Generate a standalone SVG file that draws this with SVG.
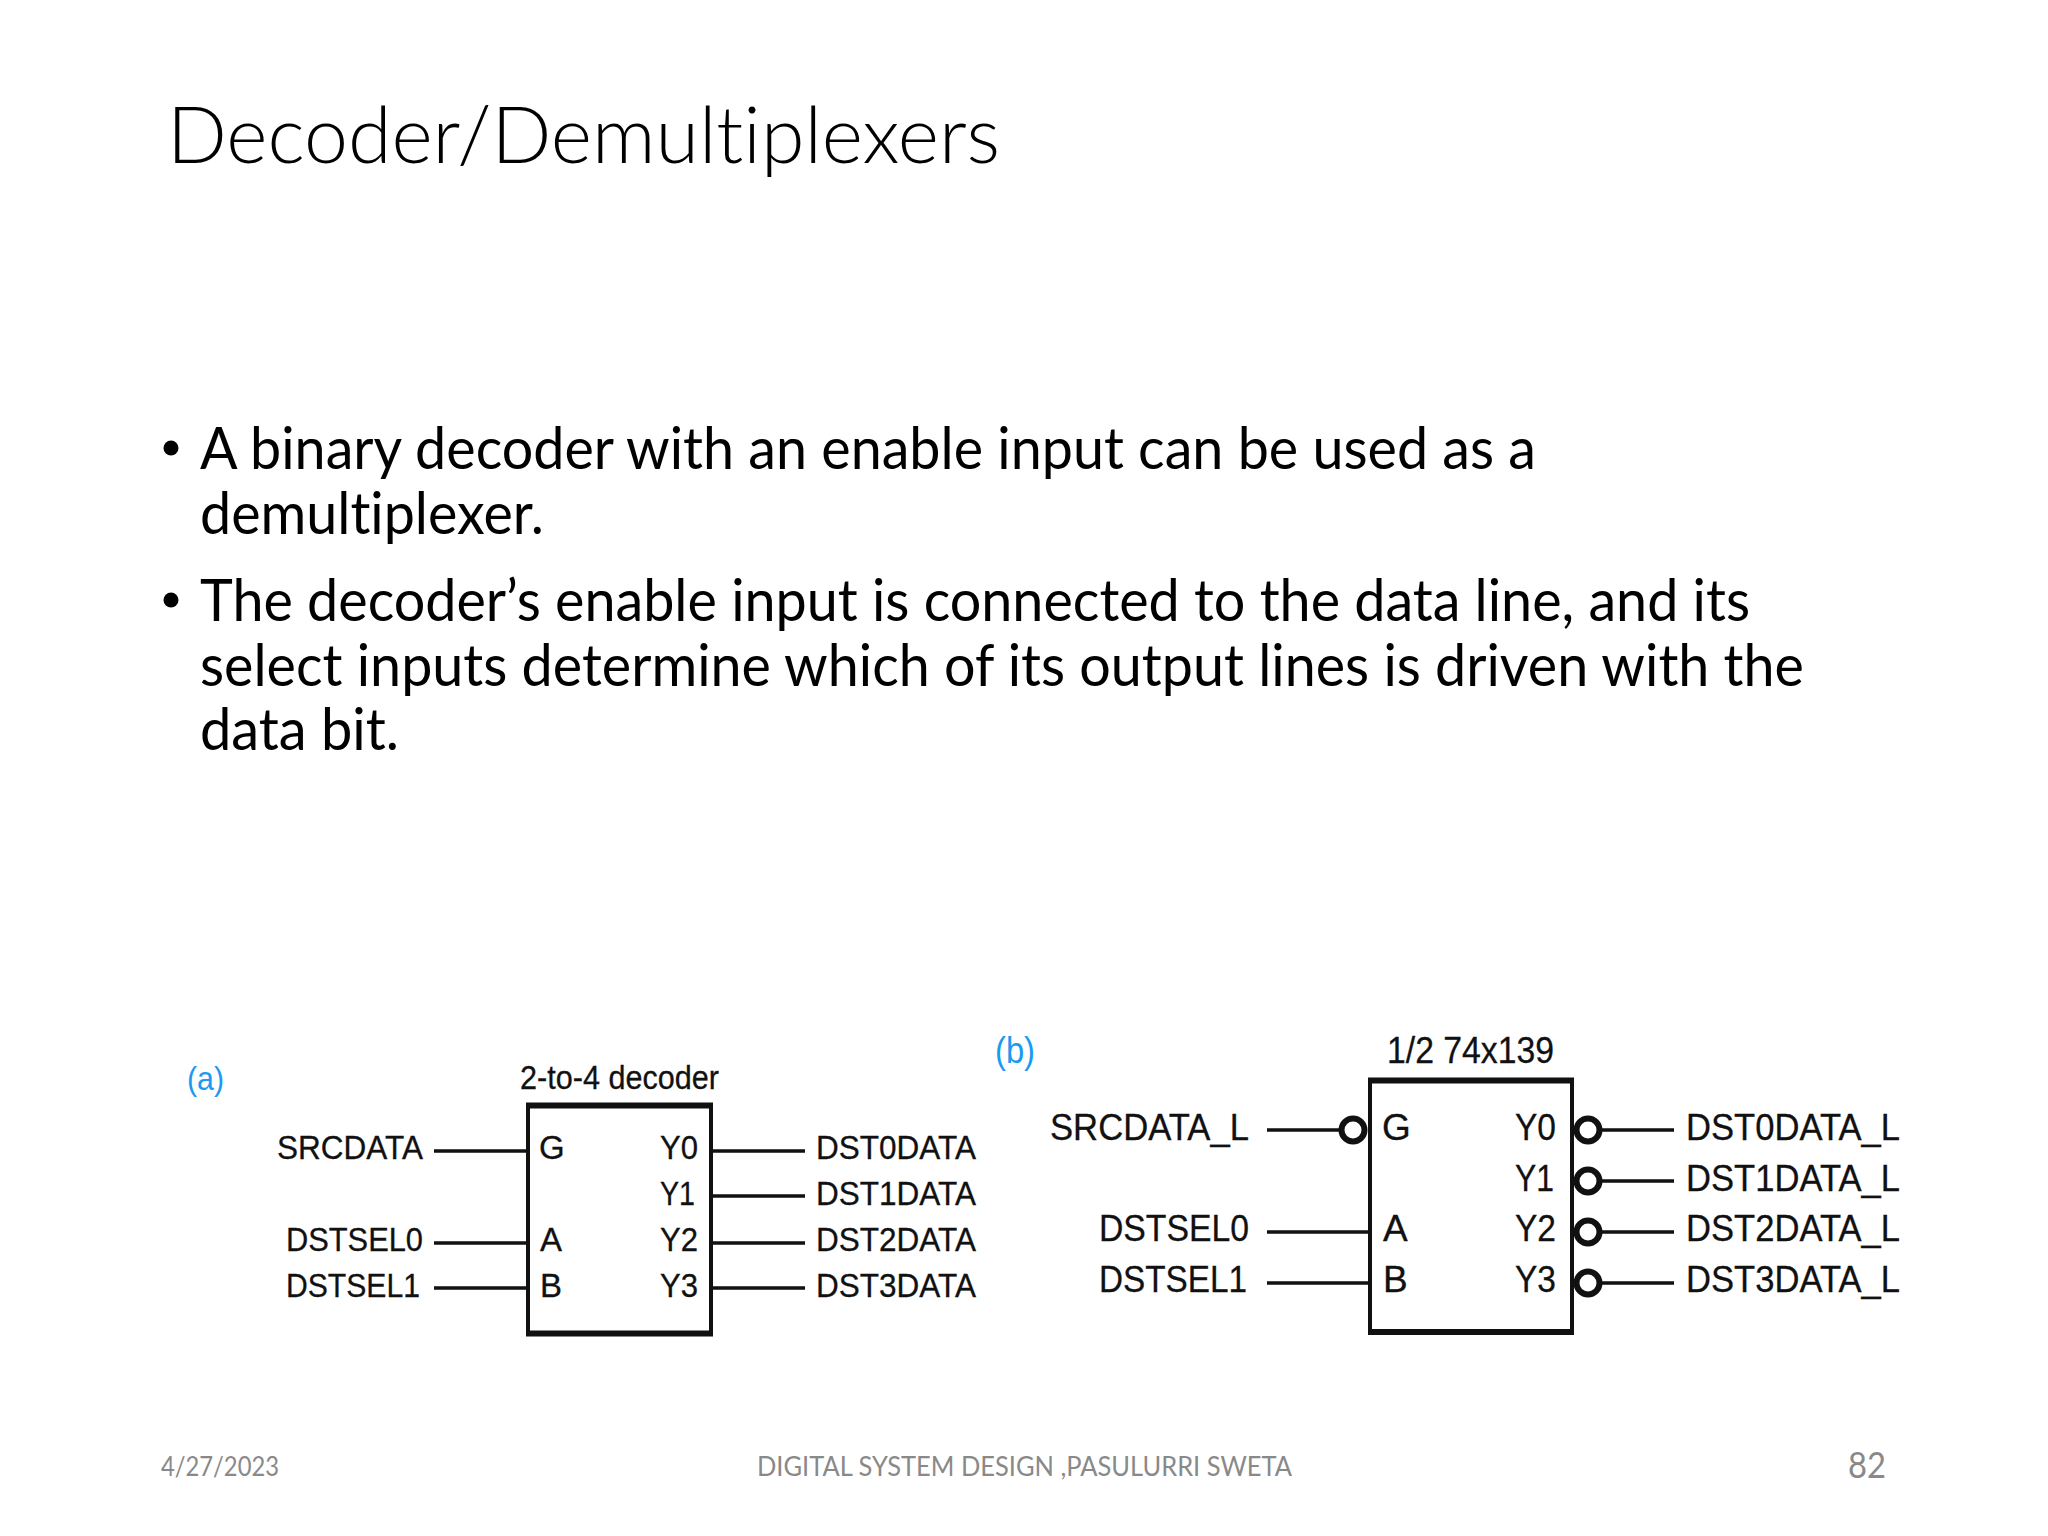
<svg xmlns="http://www.w3.org/2000/svg" width="2048" height="1536" viewBox="0 0 2048 1536">
<style>
text{font-variant-ligatures:none}
.t{font-family:"Lato","Carlito","Open Sans",sans-serif;fill:#000}
.title{font-size:78px;font-weight:300}
.body{font-size:58px}
.foot{font-family:"Lato","Open Sans",sans-serif;fill:#898989;font-size:27px}
.h{font-family:"Liberation Sans",Arial,sans-serif;fill:#111;stroke:#111;stroke-width:.3}
.a{font-size:33px}
.b{font-size:37px}
.blue{font-family:"Liberation Sans",Arial,sans-serif;fill:#1a9bf0}
.box{fill:#fff;stroke:#111;stroke-width:4}
.bar{stroke:#111;stroke-width:6;fill:none}
.wire{stroke:#111;stroke-width:3.6;fill:none}
.bub{fill:#fff;stroke:#111;stroke-width:6}
</style>
<rect width="2048" height="1536" fill="#fff"/>
<text class="t title" x="167" y="162.500" textLength="833" lengthAdjust="spacingAndGlyphs">Decoder/Demultiplexers</text>
<g id="bullets">
<circle cx="171" cy="448" r="7.500"/>
<circle cx="171" cy="600" r="7.500"/>
<text class="t body" x="200" y="469" textLength="1336" lengthAdjust="spacingAndGlyphs">A binary decoder with an enable input can be used as a</text>
<text class="t body" x="200" y="534" textLength="344" lengthAdjust="spacingAndGlyphs">demultiplexer.</text>
<text class="t body" x="200" y="621" textLength="1550" lengthAdjust="spacingAndGlyphs">The decoder’s enable input is connected to the data line, and its</text>
<text class="t body" x="200" y="685.500" textLength="1604" lengthAdjust="spacingAndGlyphs">select inputs determine which of its output lines is driven with the</text>
<text class="t body" x="200" y="750" textLength="199" lengthAdjust="spacingAndGlyphs">data bit.</text>
</g>
<g id="connectors">
<path class="wire" d="M434 1151H527M434 1243H527M434 1288H527M712 1151H805M712 1196H805M712 1243H805M712 1288H805"/>
<path class="wire" d="M1267 1130H1345M1267 1232H1369M1267 1283H1369M1598 1130H1674M1598 1181H1674M1598 1232H1674M1598 1283H1674"/>
</g>
<g id="decoder-a">
<rect class="box" x="528" y="1105" width="183" height="229"/>
<path class="bar" d="M526 1105.500H713M526 1333.500H713"/>
<text class="blue a" x="187" y="1090" textLength="37" lengthAdjust="spacingAndGlyphs">(a)</text>
<text class="h a" x="520" y="1088.500" textLength="199" lengthAdjust="spacingAndGlyphs">2-to-4 decoder</text>
<text class="h a" x="539" y="1158.500">G</text>
<text class="h a" x="540" y="1250.500">A</text>
<text class="h a" x="540" y="1297">B</text>
<text class="h a" x="660" y="1158.500" textLength="38" lengthAdjust="spacingAndGlyphs">Y0</text>
<text class="h a" x="660" y="1204.500" textLength="35" lengthAdjust="spacingAndGlyphs">Y1</text>
<text class="h a" x="660" y="1250.500" textLength="38" lengthAdjust="spacingAndGlyphs">Y2</text>
<text class="h a" x="660" y="1297" textLength="38" lengthAdjust="spacingAndGlyphs">Y3</text>
<text class="h a" x="277" y="1158.500" textLength="146" lengthAdjust="spacingAndGlyphs">SRCDATA</text>
<text class="h a" x="286" y="1250.500" textLength="137" lengthAdjust="spacingAndGlyphs">DSTSEL0</text>
<text class="h a" x="286" y="1297" textLength="134" lengthAdjust="spacingAndGlyphs">DSTSEL1</text>
<text class="h a" x="816" y="1158.500" textLength="160" lengthAdjust="spacingAndGlyphs">DST0DATA</text>
<text class="h a" x="816" y="1204.500" textLength="160" lengthAdjust="spacingAndGlyphs">DST1DATA</text>
<text class="h a" x="816" y="1250.500" textLength="160" lengthAdjust="spacingAndGlyphs">DST2DATA</text>
<text class="h a" x="816" y="1297" textLength="160" lengthAdjust="spacingAndGlyphs">DST3DATA</text>
</g>
<g id="decoder-b">
<rect class="box" x="1370" y="1080" width="202" height="252"/>
<path class="bar" d="M1368 1080.500H1574M1368 1332H1574"/>
<circle class="bub" cx="1353" cy="1130" r="11.500"/>
<circle class="bub" cx="1588" cy="1130" r="11.500"/>
<circle class="bub" cx="1588" cy="1181" r="11.500"/>
<circle class="bub" cx="1588" cy="1232" r="11.500"/>
<circle class="bub" cx="1588" cy="1283" r="11.500"/>
<text class="blue b" x="995" y="1063" textLength="40" lengthAdjust="spacingAndGlyphs">(b)</text>
<text class="h b" x="1387" y="1062.500" textLength="167" lengthAdjust="spacingAndGlyphs">1/2 74x139</text>
<text class="h b" x="1382" y="1140">G</text>
<text class="h b" x="1383" y="1241">A</text>
<text class="h b" x="1383" y="1292">B</text>
<text class="h b" x="1515" y="1140" textLength="41" lengthAdjust="spacingAndGlyphs">Y0</text>
<text class="h b" x="1515" y="1191" textLength="39" lengthAdjust="spacingAndGlyphs">Y1</text>
<text class="h b" x="1515" y="1241" textLength="41" lengthAdjust="spacingAndGlyphs">Y2</text>
<text class="h b" x="1515" y="1292" textLength="41" lengthAdjust="spacingAndGlyphs">Y3</text>
<text class="h b" x="1050" y="1140" textLength="199" lengthAdjust="spacingAndGlyphs">SRCDATA_L</text>
<text class="h b" x="1099" y="1241" textLength="150" lengthAdjust="spacingAndGlyphs">DSTSEL0</text>
<text class="h b" x="1099" y="1292" textLength="148" lengthAdjust="spacingAndGlyphs">DSTSEL1</text>
<text class="h b" x="1686" y="1140" textLength="214" lengthAdjust="spacingAndGlyphs">DST0DATA_L</text>
<text class="h b" x="1686" y="1191" textLength="214" lengthAdjust="spacingAndGlyphs">DST1DATA_L</text>
<text class="h b" x="1686" y="1241" textLength="214" lengthAdjust="spacingAndGlyphs">DST2DATA_L</text>
<text class="h b" x="1686" y="1292" textLength="214" lengthAdjust="spacingAndGlyphs">DST3DATA_L</text>
</g>
<g id="footer">
<text class="foot" x="161" y="1476" textLength="118" lengthAdjust="spacingAndGlyphs">4/27/2023</text>
<text class="foot" x="757" y="1476" textLength="535" lengthAdjust="spacingAndGlyphs">DIGITAL SYSTEM DESIGN ,PASULURRI SWETA</text>
<text class="foot" x="1848" y="1478" style="font-size:36px" textLength="38" lengthAdjust="spacingAndGlyphs">82</text>
</g>
</svg>
